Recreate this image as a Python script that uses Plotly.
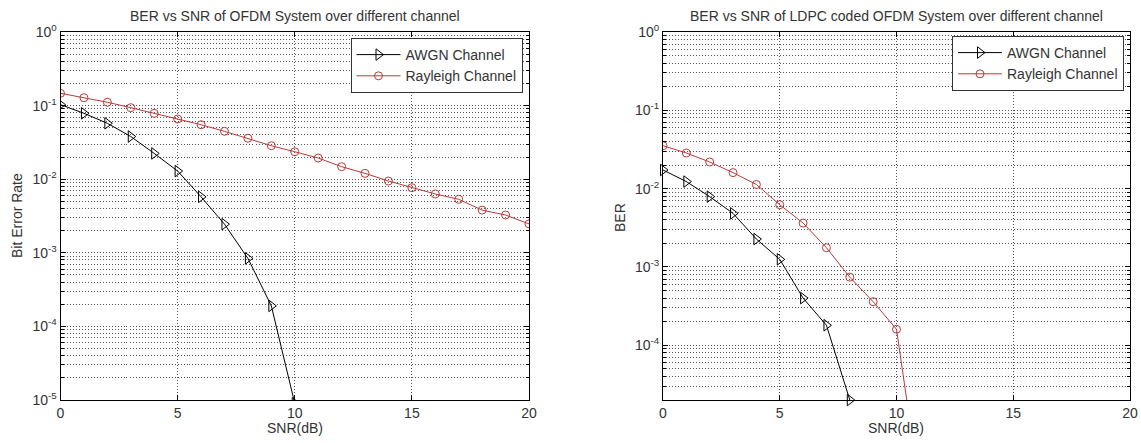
import plotly.graph_objects as go

# ---------------- data ----------------
snr_left = list(range(0, 21))
awgn_left_snr = list(range(0, 11))
awgn_left_ber = [0.103, 0.0786, 0.0575, 0.038, 0.0224, 0.0129, 0.00576, 0.00245, 0.00084, 0.00019, 9e-6]
rayleigh_left_ber = [0.147, 0.128, 0.111, 0.0937, 0.0785, 0.0658, 0.055, 0.0447, 0.036, 0.0285, 0.0236,
                     0.0194, 0.0148, 0.012, 0.00945, 0.00767, 0.0063, 0.00533, 0.0038, 0.00326, 0.00247]

awgn_right_snr = list(range(0, 9))
awgn_right_ber = [0.0173, 0.0123, 0.0079, 0.00483, 0.00227, 0.00125, 0.0004, 0.00018, 2e-5]
rayleigh_right_snr = list(range(0, 12))
rayleigh_right_ber = [0.0353, 0.0285, 0.0219, 0.016, 0.0113, 0.00623, 0.00363, 0.00176, 0.00074, 0.00036, 0.00016, 1.4e-6]

left_title = "BER vs SNR of OFDM System over different channel"
right_title = "BER vs SNR of LDPC coded OFDM System over different channel"
x_ticks = [0, 5, 10, 15, 20]
left_y_exps = [0, -1, -2, -3, -4, -5]
right_y_exps = [0, -1, -2, -3, -4]

# ---------------- style ----------------
W, H = 1141, 443
BLACK = "#000000"
RED = "#b83a3a"
TXT = "#333333"
FONT = "Liberation Sans, Arial, sans-serif"
GRID = "#555555"
DASH = "1px,2px"
FS = 14

def px_x(p):
    return p / W

def px_y(p):
    return 1 - p / H

fig = go.Figure()

fig.add_trace(go.Scatter(x=awgn_left_snr, y=awgn_left_ber, mode="lines+markers", name="AWGN Channel",
                         line=dict(color=BLACK, width=1),
                         marker=dict(symbol="triangle-right-open", size=10, color=BLACK, line=dict(width=1)),
                         xaxis="x", yaxis="y", legend="legend"))
fig.add_trace(go.Scatter(x=snr_left, y=rayleigh_left_ber, mode="lines+markers", name="Rayleigh Channel",
                         line=dict(color=RED, width=1),
                         marker=dict(symbol="circle-open", size=8, color=RED, line=dict(width=1)),
                         xaxis="x", yaxis="y", legend="legend"))
fig.add_trace(go.Scatter(x=awgn_right_snr, y=awgn_right_ber, mode="lines+markers", name="AWGN Channel",
                         line=dict(color=BLACK, width=1), cliponaxis=False,
                         marker=dict(symbol="triangle-right-open", size=10, color=BLACK, line=dict(width=1)),
                         xaxis="x2", yaxis="y2", legend="legend2"))
fig.add_trace(go.Scatter(x=rayleigh_right_snr, y=rayleigh_right_ber, mode="lines+markers", name="Rayleigh Channel",
                         line=dict(color=RED, width=1),
                         marker=dict(symbol="circle-open", size=8, color=RED, line=dict(width=1)),
                         xaxis="x2", yaxis="y2", legend="legend2"))

def xaxis_cfg(domain, anchor):
    return dict(domain=domain, anchor=anchor, range=[0, 20], tickvals=x_ticks, automargin=False,
                ticks="inside", ticklen=5, tickcolor=BLACK, showline=True, linecolor=BLACK, linewidth=1,
                mirror="ticks", showgrid=True, gridcolor=GRID, griddash=DASH, gridwidth=1,
                zeroline=False, tickfont=dict(family=FONT, size=FS, color=TXT))

def yaxis_cfg(domain, anchor, lo, exps):
    return dict(domain=domain, anchor=anchor, type="log", range=[lo, 0], automargin=False,
                tickvals=[10 ** e for e in exps],
                ticktext=["10<sup>%d</sup>" % e for e in exps],
                ticks="inside", ticklen=5, tickcolor=BLACK, showline=True, linecolor=BLACK, linewidth=1,
                mirror="ticks", showgrid=True, gridcolor=GRID, griddash=DASH, gridwidth=1,
                minor=dict(dtick="D1", showgrid=True, gridcolor=GRID, griddash=DASH, gridwidth=1,
                           ticks="inside", ticklen=3, tickcolor=BLACK),
                zeroline=False, tickfont=dict(family=FONT, size=FS, color=TXT))

ydom = [px_y(400), px_y(32)]
fig.update_layout(
    width=W, height=H, margin=dict(l=0, r=0, t=0, b=0, autoexpand=False),
    paper_bgcolor="white", plot_bgcolor="white",
    font=dict(family=FONT, size=FS, color=TXT),
    xaxis=xaxis_cfg([px_x(60.5), px_x(529)], "y"),
    yaxis=yaxis_cfg(ydom, "x", -5, left_y_exps),
    xaxis2=xaxis_cfg([px_x(663), px_x(1130)], "y2"),
    yaxis2=yaxis_cfg(ydom, "x2", -4.699, right_y_exps),
    legend=dict(x=px_x(522.5), y=px_y(38), xanchor="right", yanchor="top",
                bgcolor="white", bordercolor="#333333", borderwidth=1,
                font=dict(family=FONT, size=FS, color=TXT), tracegroupgap=0, itemwidth=44),
    legend2=dict(x=px_x(1124), y=px_y(36), xanchor="right", yanchor="top",
                 bgcolor="white", bordercolor="#333333", borderwidth=1,
                 font=dict(family=FONT, size=FS, color=TXT), tracegroupgap=0, itemwidth=44),
    showlegend=True,
)

def ann(text, xp, yp, size=FS, angle=0):
    return dict(text=text, x=px_x(xp), y=px_y(yp), xref="paper", yref="paper", showarrow=False,
                xanchor="center", yanchor="middle", textangle=angle,
                font=dict(family=FONT, size=size, color=TXT))

annots = [
    ann(left_title, 295, 16),
    ann(right_title, 896, 16),
    ann("SNR(dB)", 295, 428),
    ann("SNR(dB)", 896, 428),
    ann("Bit Error Rate", 17, 216, angle=-90),
    ann("BER", 620, 218, angle=-90),
]
fig.update_layout(annotations=annots)

fig.write_html("out.html", config={"displayModeBar": False},
               post_script="document.body.style.margin='0';document.body.style.padding='0';"
                           "document.body.style.overflow='hidden';")
